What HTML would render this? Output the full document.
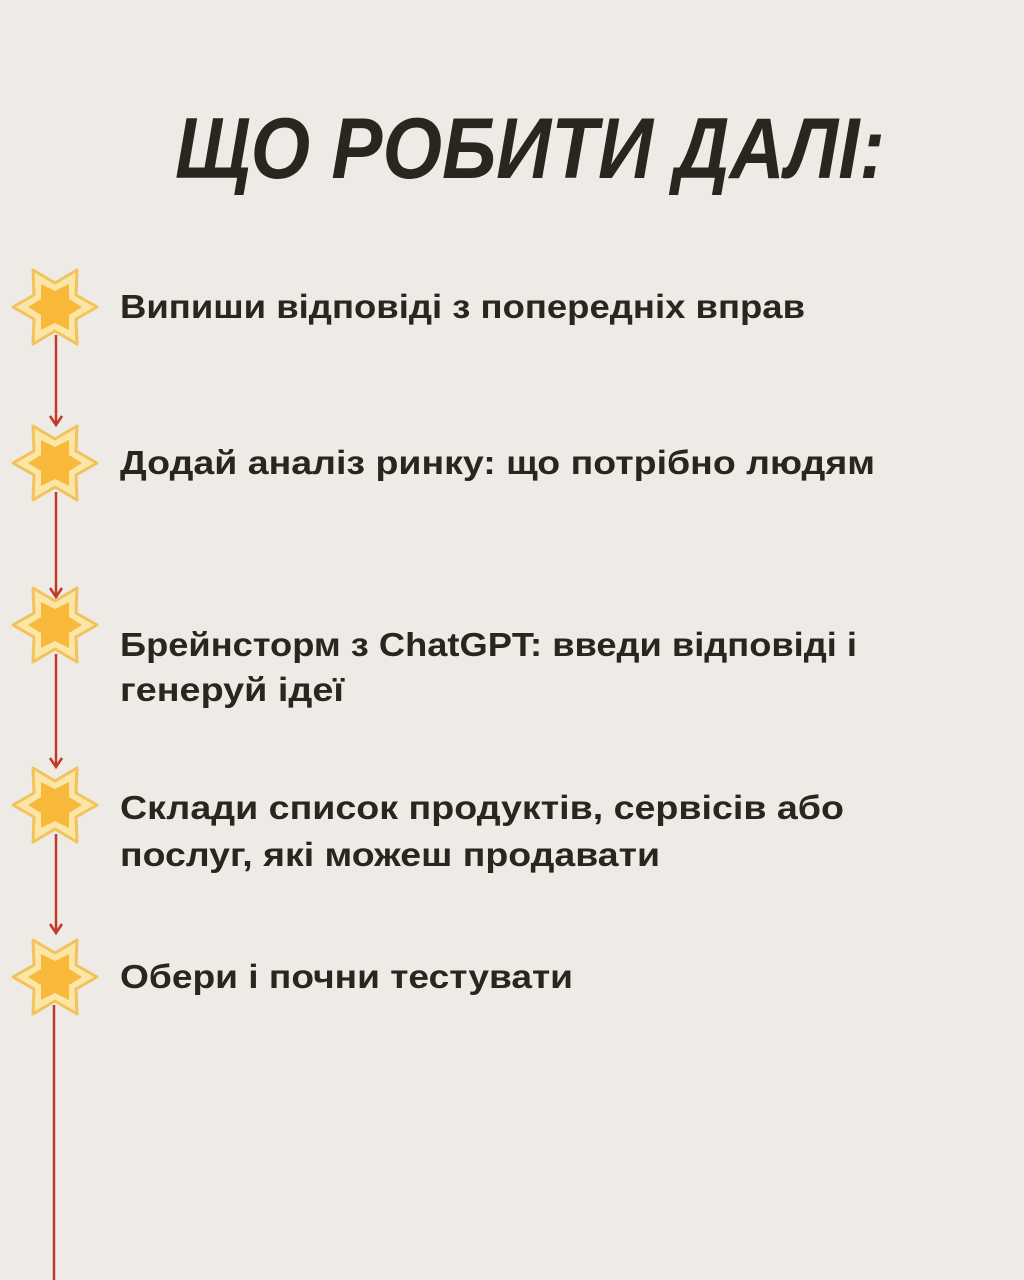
<!DOCTYPE html>
<html><head><meta charset="utf-8"><style>
html,body{margin:0;padding:0;background:#eeeae5;}
svg{display:block}
</style></head><body>
<svg width="1024" height="1280" viewBox="0 0 1024 1280" xmlns="http://www.w3.org/2000/svg">
<defs>
<g id="star">
<path d="M-42,0 L-21,-12 L-22,-37 L0,-24 L22,-37 L21,-12 L42,0 L21,12 L22,37 L0,24 L-22,37 L-21,12 Z" fill="#fbe6a8" stroke="#f2c35c" stroke-width="3" stroke-linejoin="round"/>
<path d="M-27,0 L-14,-8 L-14,-23 L0,-16 L14,-23 L14,-8 L27,0 L14,8 L14,23 L0,16 L-14,23 L-14,8 Z" fill="#f8b93a"/>
</g>
<g id="arrow"><path d="M-6,-9 L0,0 L6,-9" fill="none" stroke="#c0392b" stroke-width="2.5"/></g>
</defs>
<rect width="1024" height="1280" fill="#eeeae5"/>
<g stroke="#c0392b" stroke-width="2.5">
<line x1="56" y1="335" x2="56" y2="424"/>
<line x1="56" y1="492" x2="56" y2="596"/>
<line x1="56" y1="654" x2="56" y2="766"/>
<line x1="56" y1="834" x2="56" y2="932"/>
<line x1="54" y1="1005" x2="54" y2="1280"/>
</g>
<use href="#arrow" x="56" y="425"/>
<use href="#arrow" x="56" y="597"/>
<use href="#arrow" x="56" y="767"/>
<use href="#arrow" x="56" y="933"/>
<use href="#star" x="55" y="307"/>
<use href="#star" x="55" y="463"/>
<use href="#star" x="55" y="625"/>
<use href="#star" x="55" y="805"/>
<use href="#star" x="55" y="977"/>
<text x="175" y="178" font-family="Liberation Sans, sans-serif" font-weight="bold" font-style="italic" font-size="86" fill="#29261f" textLength="710" lengthAdjust="spacingAndGlyphs">ЩО РОБИТИ ДАЛІ:</text>
<g font-family="Liberation Sans, sans-serif" font-weight="bold" font-size="33" fill="#29261f">
<text x="120" y="318" textLength="685" lengthAdjust="spacingAndGlyphs">Випиши відповіді з попередніх вправ</text>
<text x="120" y="474" textLength="755" lengthAdjust="spacingAndGlyphs">Додай аналіз ринку: що потрібно людям</text>
<text x="120" y="656" textLength="737" lengthAdjust="spacingAndGlyphs">Брейнсторм з ChatGPT: введи відповіді і</text>
<text x="120" y="701" textLength="224" lengthAdjust="spacingAndGlyphs">генеруй ідеї</text>
<text x="120" y="819" textLength="724" lengthAdjust="spacingAndGlyphs">Склади список продуктів, сервісів або</text>
<text x="120" y="866" textLength="540" lengthAdjust="spacingAndGlyphs">послуг, які можеш продавати</text>
<text x="120" y="988" textLength="453" lengthAdjust="spacingAndGlyphs">Обери і почни тестувати</text>
</g>
</svg>
</body></html>
